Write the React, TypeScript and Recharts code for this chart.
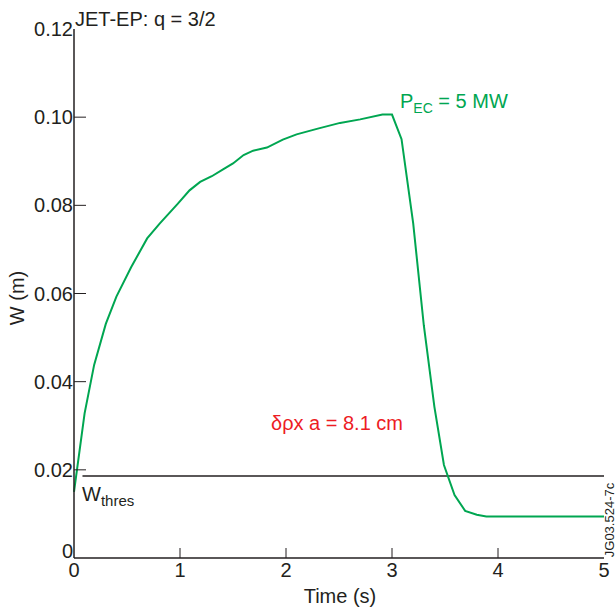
import React from "react";
import {
  LineChart,
  Line,
  XAxis,
  YAxis,
  ReferenceLine,
} from "recharts";

// W(t) for P_EC = 5 MW
const times = [
  0, 0.1, 0.19, 0.3, 0.4, 0.54, 0.69, 0.81, 0.98, 1.09, 1.19, 1.3, 1.41, 1.5,
  1.6, 1.69, 1.82, 1.97, 2.1, 2.3, 2.51, 2.7, 2.91, 3.0, 3.09, 3.2, 3.3, 3.4,
  3.49, 3.59, 3.69, 3.8, 3.89, 5.0,
];
const widths = [
  0.015, 0.0328, 0.0438, 0.0531, 0.0593, 0.066, 0.0725, 0.0759, 0.0804, 0.0834,
  0.0853, 0.0866, 0.0882, 0.0895, 0.0914, 0.0924, 0.0931, 0.0949, 0.0961,
  0.0974, 0.0987, 0.0995, 0.1006, 0.1006, 0.095, 0.0759, 0.0528, 0.0343,
  0.0211, 0.0143, 0.0107, 0.0098, 0.0094, 0.0094,
];
const xTicks = [0, 1, 2, 3, 4, 5];
const yTicks = [0, 0.02, 0.04, 0.06, 0.08, 0.1, 0.12];
const wThres = 0.0186;
const wThresStart = 0.08;

const data = times.map((t, i) => ({ t, w: widths[i] }));

const INK = "#231f20";
const GREEN = "#00a651";
const RED = "#ed1c24";
const FONT = '"Liberation Sans", Arial, Helvetica, sans-serif';

function YTick(props: any) {
  const { x, y, payload } = props;
  const v = payload.value as number;
  const inner = v > 0 && v < 0.12;
  const label = v === 0 ? "0" : v.toFixed(2);
  return (
    <g>
      {inner && <line x1={x + 2} x2={x + 14} y1={y} y2={y} stroke={INK} strokeWidth={1} />}
      <text
        x={x + 1}
        y={v === 0 ? y : y + 7}
        textAnchor="end"
        fontSize={20}
        fontFamily={FONT}
        fill={INK}
      >
        {label}
      </text>
    </g>
  );
}

function XTick(props: any) {
  const { x, y, payload } = props;
  const v = payload.value as number;
  const inner = v > 0 && v < 5;
  return (
    <g>
      {inner && <line x1={x} x2={x} y1={y - 2} y2={y - 12} stroke={INK} strokeWidth={1} />}
      <text x={x} y={y + 17} textAnchor="middle" fontSize={20} fontFamily={FONT} fill={INK}>
        {v}
      </text>
    </g>
  );
}

export default function App() {
  return (
    <div style={{ position: "absolute", left: 0, top: 0, background: "#fff" }}>
      <LineChart
        width={616}
        height={612}
        data={data}
        margin={{ top: 29, right: 12, left: 0, bottom: 0 }}
      >
        <XAxis
          dataKey="t"
          type="number"
          domain={[0, 5]}
          ticks={xTicks}
          tickSize={0}
          tickMargin={2}
          height={54}
          axisLine={{ stroke: INK, strokeWidth: 1.5 }}
          tickLine={false}
          tick={<XTick />}
          interval={0}
        />
        <XAxis
          xAxisId="top"
          orientation="top"
          type="number"
          domain={[0, 5]}
          height={0}
          tick={false}
          tickLine={false}
          axisLine={{ stroke: INK, strokeWidth: 1.5 }}
        />
        <YAxis
          type="number"
          domain={[0, 0.12]}
          ticks={yTicks}
          tickSize={0}
          tickMargin={2}
          width={74}
          axisLine={{ stroke: INK, strokeWidth: 1.5 }}
          tickLine={false}
          tick={<YTick />}
          interval={0}
        />
        <YAxis
          yAxisId="right"
          orientation="right"
          type="number"
          domain={[0, 0.12]}
          width={0}
          tick={false}
          tickLine={false}
          axisLine={{ stroke: INK, strokeWidth: 1.5 }}
        />
        <ReferenceLine
          segment={[
            { x: wThresStart, y: wThres },
            { x: 5, y: wThres },
          ]}
          stroke={INK}
          strokeWidth={1.5}
        />
        <Line
          type="linear"
          dataKey="w"
          stroke={GREEN}
          strokeWidth={2}
          dot={false}
          isAnimationActive={false}
        />
        <text x={75} y={26} fontSize={20} fontFamily={FONT} fill={INK}>
          JET-EP: q = 3/2
        </text>
        <text x={400} y={108} fontSize={20} fontFamily={FONT} fill={GREEN}>
          P
          <tspan fontSize={14} dy={5}>EC</tspan>
          <tspan dy={-5}> = 5 MW</tspan>
        </text>
        <text x={271} y={430} fontSize={20} fontFamily={FONT} fill={RED}>
          δρx a = 8.1 cm
        </text>
        <text x={82} y={501} fontSize={20} fontFamily={FONT} fill={INK}>
          W
          <tspan fontSize={15} dy={5}>thres</tspan>
        </text>
        <text x={340} y={603} textAnchor="middle" fontSize={20} fontFamily={FONT} fill={INK}>
          Time (s)
        </text>
        <text
          x={0}
          y={0}
          transform="translate(24 298) rotate(-90)"
          textAnchor="middle"
          fontSize={20}
          fontFamily={FONT}
          fill={INK}
        >
          W (m)
        </text>
        <text
          x={0}
          y={0}
          transform="translate(614 520) rotate(-90)"
          textAnchor="middle"
          fontSize={13}
          fontFamily={FONT}
          fill={INK}
        >
          JG03.524-7c
        </text>
      </LineChart>
    </div>
  );
}
